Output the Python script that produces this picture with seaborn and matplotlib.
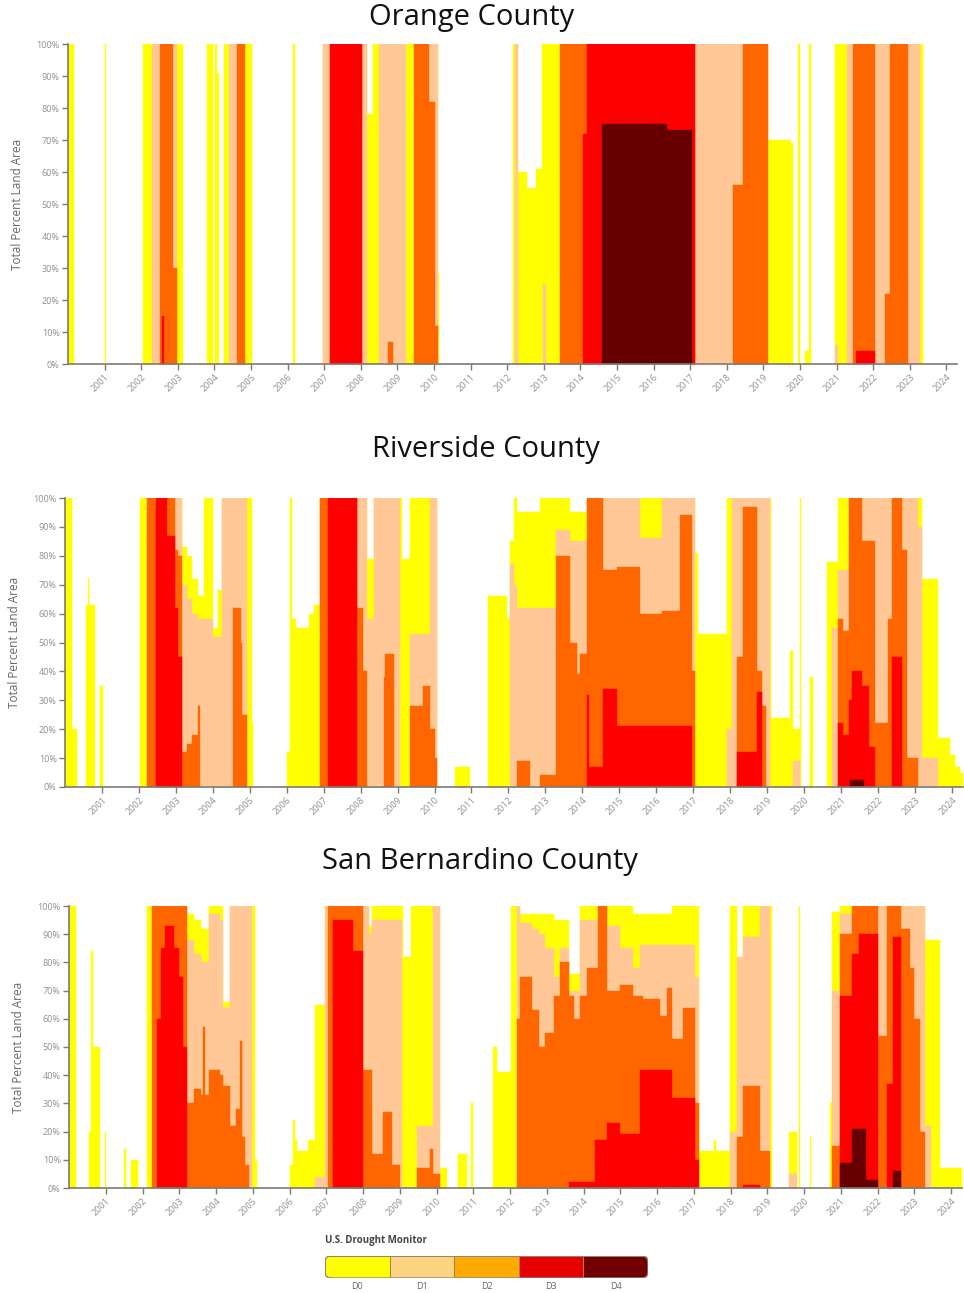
import matplotlib
matplotlib.use("Agg")
import matplotlib.pyplot as plt
import seaborn as sns
import numpy as np
from matplotlib.colors import ListedColormap
from matplotlib.patches import FancyBboxPatch

sns.set_theme(style="white")
plt.rcParams['font.family'] = ['Open Sans', 'DejaVu Sans']

# ---------------- data ----------------
LEVELS = ["D0", "D1", "D2", "D3", "D4"]
COLORS = ["#FFFF00", "#FFC896", "#FF6600", "#FF0000", "#660000"]
LEGEND_COLORS = ["#FFFF00", "#FCD37F", "#FFAA00", "#E60000", "#730000"]
YEARS = list(range(2001, 2025))
YTICKS = list(range(0, 101, 10))
TITLES = ["Orange County", "Riverside County", "San Bernardino County"]

# intervals (start, end, cumulative percent) per drought level
orange_d0 = [(2000.00, 2000.16, 100), (2001.01, 2001.05, 100), (2002.06, 2003.13, 100), (2003.81, 2003.97, 100),
             (2004.03, 2004.06, 100), (2004.06, 2004.12, 91), (2004.26, 2005.02, 100), (2006.14, 2006.20, 100),
             (2006.96, 2008.16, 100), (2008.16, 2008.34, 78), (2008.34, 2010.10, 100), (2010.10, 2010.13, 28),
             (2012.15, 2012.30, 100), (2012.30, 2012.53, 60), (2012.53, 2012.80, 55), (2012.80, 2012.94, 61),
             (2012.94, 2019.13, 100), (2019.13, 2019.75, 70), (2019.75, 2019.82, 69), (2019.95, 2020.00, 100),
             (2020.15, 2020.25, 4), (2020.25, 2020.30, 100), (2020.95, 2023.35, 100)]
orange_d1 = [(2002.29, 2002.97, 100), (2004.41, 2004.84, 100), (2006.98, 2008.16, 100), (2008.51, 2009.24, 100),
             (2009.46, 2010.10, 100), (2012.20, 2012.30, 100), (2012.98, 2013.07, 25), (2013.44, 2019.13, 100),
             (2020.95, 2021.04, 6), (2021.29, 2023.28, 100)]
orange_d2 = [(2002.51, 2002.88, 100), (2002.88, 2002.97, 30), (2004.63, 2004.84, 100), (2007.16, 2008.02, 100),
             (2008.75, 2008.89, 7), (2009.46, 2009.85, 100), (2009.85, 2010.03, 82), (2010.03, 2010.10, 12),
             (2013.44, 2017.13, 100), (2018.18, 2018.45, 56), (2018.45, 2019.13, 100), (2021.46, 2022.05, 100),
             (2022.32, 2022.46, 22), (2022.46, 2022.96, 100)]
orange_d3 = [(2002.58, 2002.62, 15), (2007.16, 2008.02, 100), (2014.08, 2014.17, 72), (2014.17, 2017.13, 100),
             (2021.53, 2022.05, 4)]
orange_d4 = [(2014.58, 2016.36, 75), (2016.36, 2017.04, 73)]

riverside_d0 = [(2000.00, 2000.18, 100), (2000.18, 2000.32, 20), (2000.57, 2000.62, 63), (2000.62, 2000.66, 72),
                (2000.66, 2000.81, 63), (2000.95, 2001.04, 35), (2002.03, 2003.16, 100), (2003.16, 2003.30, 83),
                (2003.30, 2003.45, 80), (2003.45, 2003.60, 72), (2003.60, 2003.76, 66), (2003.76, 2004.01, 100),
                (2004.01, 2004.13, 55), (2004.13, 2004.24, 68), (2004.24, 2005.05, 100), (2005.05, 2005.10, 22),
                (2006.00, 2006.10, 12), (2006.10, 2006.14, 100), (2006.14, 2006.25, 58), (2006.25, 2006.60, 55),
                (2006.60, 2006.75, 60), (2006.75, 2006.90, 63), (2006.90, 2008.16, 100), (2008.16, 2008.35, 79),
                (2008.35, 2009.12, 100), (2009.12, 2009.34, 79), (2009.34, 2010.06, 100), (2010.55, 2010.96, 7),
                (2011.46, 2011.95, 66), (2011.95, 2012.04, 58), (2012.04, 2012.15, 85), (2012.15, 2012.22, 100),
                (2012.22, 2012.85, 95), (2012.85, 2013.67, 100), (2013.67, 2014.12, 95), (2014.12, 2017.05, 100),
                (2017.05, 2017.14, 81), (2017.14, 2017.91, 53), (2017.91, 2019.12, 100), (2019.12, 2019.62, 24),
                (2019.62, 2019.70, 47), (2019.70, 2019.89, 20), (2019.89, 2019.93, 100), (2020.16, 2020.25, 38),
                (2020.62, 2020.93, 78), (2020.93, 2023.18, 100), (2023.18, 2023.63, 72), (2023.63, 2023.95, 17),
                (2023.95, 2024.09, 11), (2024.09, 2024.22, 7), (2024.22, 2024.30, 5)]
riverside_d1 = [(2002.21, 2003.16, 100), (2003.16, 2003.30, 70), (2003.30, 2003.45, 65), (2003.45, 2003.60, 60),
                (2003.60, 2004.01, 58), (2004.01, 2004.24, 52), (2004.24, 2004.92, 100), (2006.90, 2008.16, 100),
                (2008.16, 2008.35, 58), (2008.35, 2009.07, 100), (2009.34, 2009.88, 53), (2009.88, 2010.06, 100),
                (2012.04, 2012.15, 77), (2012.15, 2012.22, 70), (2012.22, 2013.30, 62), (2013.30, 2013.67, 89),
                (2013.67, 2014.12, 85), (2014.12, 2015.56, 100), (2015.56, 2016.15, 86), (2016.15, 2017.05, 100),
                (2017.91, 2018.04, 20), (2018.04, 2019.08, 100), (2019.70, 2019.89, 9), (2020.75, 2020.93, 55),
                (2020.93, 2021.22, 75), (2021.22, 2023.09, 100), (2023.09, 2023.18, 90), (2023.18, 2023.63, 10)]
riverside_d2 = [(2002.21, 2002.98, 100), (2002.98, 2003.07, 82), (2003.07, 2003.16, 80), (2003.16, 2003.30, 12),
                (2003.30, 2003.45, 15), (2003.45, 2003.60, 18), (2003.60, 2003.65, 28), (2004.56, 2004.75, 62),
                (2004.75, 2004.80, 50), (2004.80, 2004.92, 25), (2006.90, 2007.90, 100), (2007.90, 2008.07, 62),
                (2008.07, 2008.16, 40), (2008.62, 2008.65, 38), (2008.65, 2008.90, 46), (2009.34, 2009.70, 28),
                (2009.70, 2009.88, 35), (2009.88, 2010.00, 20), (2010.00, 2010.06, 10), (2012.22, 2012.58, 9),
                (2012.85, 2013.30, 4), (2013.30, 2013.67, 80), (2013.67, 2013.85, 50), (2013.85, 2013.95, 39),
                (2013.95, 2014.12, 46), (2014.12, 2014.57, 100), (2014.57, 2014.93, 75), (2014.93, 2015.56, 76),
                (2015.56, 2016.15, 60), (2016.15, 2016.64, 61), (2016.64, 2016.96, 94), (2016.96, 2017.05, 40),
                (2018.18, 2018.36, 45), (2018.36, 2018.72, 97), (2018.72, 2018.85, 40), (2018.85, 2018.98, 28),
                (2020.93, 2021.05, 58), (2021.05, 2021.22, 54), (2021.22, 2021.58, 100), (2021.58, 2021.92, 85),
                (2021.92, 2022.28, 22), (2022.28, 2022.37, 58), (2022.37, 2022.64, 100), (2022.64, 2022.78, 82),
                (2022.78, 2023.09, 10)]
riverside_d3 = [(2002.46, 2002.75, 100), (2002.75, 2002.98, 87), (2002.98, 2003.07, 62), (2003.07, 2003.16, 45),
                (2007.13, 2007.90, 100), (2014.12, 2014.17, 32), (2014.17, 2014.57, 7), (2014.57, 2014.93, 34),
                (2014.93, 2016.96, 21), (2018.18, 2018.72, 12), (2018.72, 2018.85, 33), (2020.93, 2021.05, 22),
                (2021.05, 2021.22, 18), (2021.22, 2021.30, 30), (2021.30, 2021.58, 40), (2021.58, 2021.75, 35),
                (2021.75, 2021.92, 14), (2022.37, 2022.64, 45)]
riverside_d4 = [(2021.25, 2021.62, 2.5)]

sanb_d0 = [(2000.00, 2000.19, 100), (2000.55, 2000.60, 20), (2000.60, 2000.65, 84), (2000.65, 2000.84, 50),
           (2000.98, 2001.02, 20), (2001.50, 2001.54, 14), (2001.70, 2001.89, 10), (2002.11, 2003.20, 100),
           (2003.20, 2003.40, 97), (2003.40, 2003.60, 95), (2003.60, 2003.80, 92), (2003.80, 2004.20, 100),
           (2004.20, 2004.38, 66), (2004.38, 2005.05, 100), (2005.05, 2005.11, 10), (2006.01, 2006.10, 8),
           (2006.10, 2006.15, 24), (2006.15, 2006.20, 17), (2006.20, 2006.50, 13), (2006.50, 2006.70, 17),
           (2006.70, 2006.97, 65), (2006.97, 2008.15, 100), (2008.15, 2008.24, 93), (2008.24, 2009.10, 100),
           (2009.10, 2009.30, 82), (2009.30, 2010.10, 100), (2010.10, 2010.28, 7), (2010.59, 2010.82, 12),
           (2010.95, 2010.98, 30), (2011.55, 2011.64, 50), (2011.64, 2012.04, 41), (2012.04, 2012.27, 100),
           (2012.27, 2013.20, 97), (2013.20, 2013.60, 95), (2013.60, 2013.90, 76), (2013.90, 2015.35, 100),
           (2015.35, 2016.40, 97), (2016.40, 2017.15, 100), (2017.15, 2017.55, 13), (2017.55, 2017.60, 17),
           (2017.60, 2017.99, 13), (2017.99, 2018.17, 100), (2018.17, 2018.35, 82), (2018.35, 2019.12, 100),
           (2019.60, 2019.82, 20), (2019.86, 2019.90, 100), (2020.15, 2020.20, 18), (2020.70, 2020.75, 30),
           (2020.75, 2020.97, 98), (2020.97, 2023.29, 100), (2023.29, 2023.70, 88), (2023.70, 2024.30, 7)]
sanb_d1 = [(2002.25, 2003.20, 100), (2003.20, 2003.40, 88), (2003.40, 2003.60, 83), (2003.60, 2003.80, 80),
           (2003.80, 2004.10, 97), (2004.10, 2004.20, 95), (2004.20, 2004.38, 64), (2004.38, 2004.97, 100),
           (2006.70, 2006.97, 4), (2006.97, 2008.15, 100), (2008.15, 2008.24, 90), (2008.24, 2009.05, 95),
           (2009.46, 2009.91, 22), (2009.91, 2010.10, 100), (2012.18, 2012.27, 100), (2012.27, 2012.60, 94),
           (2012.60, 2012.80, 92), (2012.80, 2012.95, 90), (2012.95, 2013.20, 85), (2013.20, 2013.35, 75),
           (2013.35, 2013.60, 85), (2013.60, 2013.90, 70), (2013.90, 2014.40, 95), (2014.40, 2014.63, 100),
           (2014.63, 2014.99, 93), (2014.99, 2015.35, 85), (2015.35, 2015.54, 78), (2015.54, 2017.03, 86),
           (2017.03, 2017.15, 75), (2017.99, 2018.17, 20), (2018.17, 2018.35, 82), (2018.35, 2018.80, 89),
           (2018.80, 2019.07, 100), (2019.60, 2019.82, 5), (2020.75, 2020.97, 70), (2020.97, 2021.30, 97),
           (2021.30, 2023.29, 100), (2023.29, 2023.45, 22)]
sanb_d2 = [(2002.25, 2003.20, 100), (2003.20, 2003.40, 30), (2003.40, 2003.60, 35), (2003.60, 2003.65, 33),
           (2003.65, 2003.70, 57), (2003.70, 2003.80, 33), (2003.80, 2004.10, 42), (2004.10, 2004.20, 40),
           (2004.20, 2004.38, 36), (2004.38, 2004.55, 22), (2004.55, 2004.65, 28), (2004.65, 2004.70, 52),
           (2004.70, 2004.80, 18), (2004.80, 2004.90, 8), (2007.06, 2008.01, 100), (2008.01, 2008.24, 42),
           (2008.24, 2008.55, 12), (2008.55, 2008.80, 27), (2008.80, 2009.00, 8), (2009.46, 2009.82, 7),
           (2009.82, 2009.91, 14), (2009.91, 2010.10, 5), (2012.18, 2012.27, 60), (2012.27, 2012.60, 75),
           (2012.60, 2012.80, 63), (2012.80, 2012.95, 50), (2012.95, 2013.20, 55), (2013.20, 2013.35, 68),
           (2013.35, 2013.60, 80), (2013.60, 2013.75, 68), (2013.75, 2013.90, 60), (2013.90, 2014.10, 68),
           (2014.10, 2014.40, 78), (2014.40, 2014.63, 100), (2014.63, 2014.99, 70), (2014.99, 2015.35, 72),
           (2015.35, 2015.63, 68), (2015.63, 2016.08, 67), (2016.08, 2016.26, 61), (2016.26, 2016.40, 71),
           (2016.40, 2016.70, 53), (2016.70, 2017.03, 64), (2017.03, 2017.15, 30), (2018.17, 2018.35, 18),
           (2018.35, 2018.80, 36), (2018.80, 2019.07, 13), (2020.75, 2020.97, 15), (2020.97, 2021.30, 90),
           (2021.30, 2022.02, 100), (2022.02, 2022.25, 54), (2022.25, 2022.65, 100), (2022.65, 2022.88, 92),
           (2022.88, 2023.00, 78), (2023.00, 2023.15, 60), (2023.15, 2023.29, 20)]
sanb_d3 = [(2002.40, 2002.50, 60), (2002.50, 2002.60, 85), (2002.60, 2002.85, 93), (2002.85, 2003.00, 85),
           (2003.00, 2003.10, 75), (2003.10, 2003.20, 50), (2007.19, 2007.74, 95), (2007.74, 2008.01, 84),
           (2013.60, 2014.30, 2), (2014.30, 2014.63, 17), (2014.63, 2014.99, 23), (2014.99, 2015.54, 19),
           (2015.54, 2016.40, 42), (2016.40, 2017.03, 32), (2017.03, 2017.15, 10), (2018.35, 2018.80, 1),
           (2020.97, 2021.30, 68), (2021.30, 2021.50, 83), (2021.50, 2022.02, 90), (2022.25, 2022.43, 37),
           (2022.43, 2022.65, 89)]
sanb_d4 = [(2020.97, 2021.30, 9), (2021.30, 2021.70, 21), (2021.70, 2022.02, 3), (2022.43, 2022.65, 6)]

COUNTIES = [
    [orange_d0, orange_d1, orange_d2, orange_d3, orange_d4],
    [riverside_d0, riverside_d1, riverside_d2, riverside_d3, riverside_d4],
    [sanb_d0, sanb_d1, sanb_d2, sanb_d3, sanb_d4],
]

# ---------------- layout ----------------
W, H = 964, 1293
fig = plt.figure(figsize=(W / 100, H / 100), dpi=100)

# (left px, top px, px per year, bottom px)
AX_PX = [(68, 44, 36.6, 364), (65, 498, 36.95, 787), (69, 906, 36.75, 1188)]
TITLE_PX = [(472, 18), (486, 450), (480, 862)]
X0, X1 = 2000.0, 2024.3
SPINE = "#7a7a7a"
TXT = "#8f8f8f"

for (left, top, ppy, bottom), (tx, ty), title, layers in zip(AX_PX, TITLE_PX, TITLES, COUNTIES):
    width = (X1 - X0) * ppy
    ax = fig.add_axes([left / W, 1 - bottom / H, width / W, (bottom - top) / H])
    for color, intervals in zip(COLORS, layers):
        for a, b, v in intervals:
            ax.fill_between([a, b], [v, v], 0, facecolor=color, edgecolor=color, linewidth=0.3)
    ax.set_xlim(X0, X1)
    ax.set_ylim(0, 100)
    sns.despine(ax=ax)
    for s in ["left", "bottom"]:
        ax.spines[s].set_color(SPINE)
        ax.spines[s].set_linewidth(1.2)
    ax.set_yticks(YTICKS)
    ax.set_yticklabels([f"{v}%" for v in YTICKS], fontsize=6.5, color=TXT)
    ax.set_xticks(YEARS)
    ax.set_xticklabels([str(y) for y in YEARS], fontsize=6.5, color=TXT, rotation=45, ha="right",
                       rotation_mode="anchor")
    ax.tick_params(axis="both", which="both", direction="out", length=4, width=1, color=SPINE,
                   bottom=True, left=True, pad=2)
    ax.set_ylabel("Total Percent Land Area", fontsize=8.5, color="#666666", labelpad=9)
    ax.grid(False)
    ax.set_facecolor("white")
    fig.text(tx / W, 1 - ty / H, title, fontsize=21, color="#111111", ha="center", va="center")

# ---------------- legend ----------------
lx, ly, lw_, lh = 325, 1256, 323, 22
lax = fig.add_axes([lx / W, 1 - (ly + lh) / H, lw_ / W, lh / H])
sns.heatmap(np.arange(5).reshape(1, 5), cmap=ListedColormap(LEGEND_COLORS), cbar=False, ax=lax,
            xticklabels=LEVELS, yticklabels=False, linewidths=0.6, linecolor="#a08050")
seg_px = lw_ / 5.0
aspect = seg_px / lh
clip = FancyBboxPatch((0, 0), 5, 1, boxstyle="round,pad=0,rounding_size=%.3f" % (6 / seg_px),
                      mutation_aspect=aspect, transform=lax.transData, facecolor="none",
                      edgecolor="#8a8a8a", linewidth=1.0)
lax.add_patch(clip)
for coll in lax.collections:
    coll.set_clip_path(clip)
lax.tick_params(axis="x", length=0, labelsize=6.5, labelcolor="#666666", pad=3)
for s in lax.spines.values():
    s.set_visible(False)
fig.text(lx / W, 1 - 1240 / H, "U.S. Drought Monitor", fontsize=7, fontweight="bold",
         color="#444444", ha="left", va="center")

fig.savefig("out.png", dpi=100)
